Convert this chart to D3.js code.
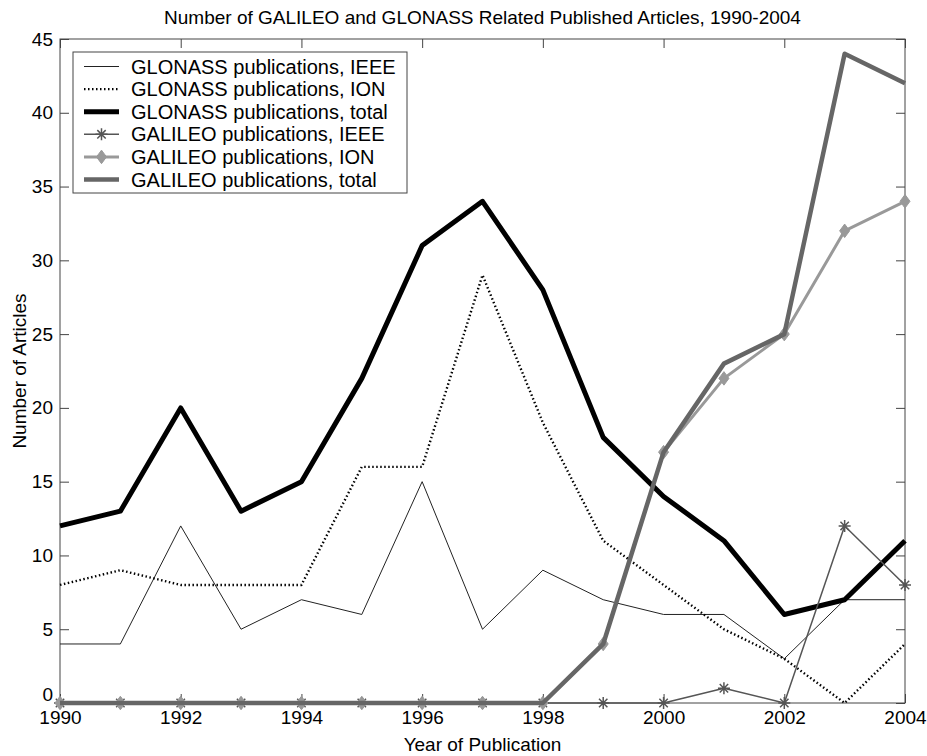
<!DOCTYPE html>
<html>
<head>
<meta charset="utf-8">
<script src="https://cdn.jsdelivr.net/npm/d3@7"></script>
<style>
  body { margin: 0; background: #fff; }
  text { font-family: "Liberation Sans", Arial, sans-serif; fill: #000; }
</style>
</head>
<body>
<svg id="chart" width="927" height="756"></svg>
<script>
const years = d3.range(1990, 2005);
const glonassIeee = [4, 4, 12, 5, 7, 6, 15, 5, 9, 7, 6, 6, 3, 7, 7];
const glonassIon = [8, 9, 8, 8, 8, 16, 16, 29, 19, 11, 8, 5, 3, 0, 4];
const glonassTotal = [12, 13, 20, 13, 15, 22, 31, 34, 28, 18, 14, 11, 6, 7, 11];
const galileoIeee = [0, 0, 0, 0, 0, 0, 0, 0, 0, 0, 0, 1, 0, 12, 8];
const galileoIon = [0, 0, 0, 0, 0, 0, 0, 0, 0, 4, 17, 22, 25, 32, 34];
const galileoTotal = [0, 0, 0, 0, 0, 0, 0, 0, 0, 4, 17, 23, 25, 44, 42];
const xTicks = d3.range(1990, 2005, 2);
const yTicks = d3.range(0, 46, 5);

const series = [
  { name: "GLONASS publications, IEEE", values: glonassIeee, color: "#222", width: 1, dash: null, marker: null },
  { name: "GLONASS publications, ION", values: glonassIon, color: "#000", width: 2.4, dash: "1.5,2.5", marker: null },
  { name: "GLONASS publications, total", values: glonassTotal, color: "#000", width: 5, dash: null, marker: null },
  { name: "GALILEO publications, IEEE", values: galileoIeee, color: "#555", width: 1.5, dash: null, marker: "star" },
  { name: "GALILEO publications, ION", values: galileoIon, color: "#999", width: 3, dash: null, marker: "diamond" },
  { name: "GALILEO publications, total", values: galileoTotal, color: "#666", width: 4.5, dash: null, marker: null },
];

const plotL = 60, plotR = 905, plotT = 39, plotB = 703;
const tick = 9;

const svg = d3.select("#chart");

const xScale = d3.scaleLinear().domain([1990, 2004]).range([plotL, plotR]);
const yScale = d3.scaleLinear().domain([0, 45]).range([plotB, plotT]);

svg.append("text")
  .text("Number of GALILEO and GLONASS Related Published Articles, 1990-2004")
  .attr("x", (plotL + plotR) / 2)
  .attr("y", 24)
  .attr("text-anchor", "middle")
  .style("font-size", "19px");

// axes, ticks pointing inward
const xAxis = svg.append("g")
  .attr("transform", `translate(0, ${plotB})`)
  .call(d3.axisBottom(xScale).tickValues(xTicks).tickFormat(d3.format("d")).tickSizeInner(-tick).tickSizeOuter(0));
const xTop = svg.append("g")
  .attr("transform", `translate(0, ${plotT})`)
  .call(d3.axisTop(xScale).tickValues(xTicks).tickFormat("").tickSizeInner(-tick).tickSizeOuter(0));
const yAxis = svg.append("g")
  .attr("transform", `translate(${plotL}, 0)`)
  .call(d3.axisLeft(yScale).tickValues(yTicks).tickSizeInner(-tick).tickSizeOuter(0).tickPadding(7));
const yRight = svg.append("g")
  .attr("transform", `translate(${plotR}, 0)`)
  .call(d3.axisRight(yScale).tickValues(yTicks).tickFormat("").tickSizeInner(-tick).tickSizeOuter(0));

[xAxis, xTop, yAxis, yRight].forEach((g) => {
  g.select(".domain").remove();
  g.selectAll("line").attr("stroke", "#444");
  g.selectAll("text").style("font-size", "19px").attr("fill", "#000");
});
xAxis.selectAll("text").attr("y", 8).attr("dy", "0.71em");
// keep the "0" clear of the "1990" under it
yAxis.selectAll("text").filter((d) => d === 0).attr("dy", "-0.15em");

svg.append("rect")
  .attr("x", plotL).attr("y", plotT)
  .attr("width", plotR - plotL).attr("height", plotB - plotT)
  .attr("fill", "none").attr("stroke", "#444").attr("stroke-width", 1);

svg.append("text")
  .text("Year of Publication")
  .attr("x", (plotL + plotR) / 2)
  .attr("y", 751)
  .attr("text-anchor", "middle")
  .style("font-size", "19px");

svg.append("text")
  .text("Number of Articles")
  .attr("transform", `translate(26, ${(plotT + plotB) / 2}) rotate(-90)`)
  .attr("text-anchor", "middle")
  .style("font-size", "19px");

const line = d3.line()
  .x((d, i) => xScale(years[i]))
  .y((d) => yScale(d));

const diamond = (cx, cy, s) => `M${cx},${cy - s * 1.35}L${cx + s},${cy}L${cx},${cy + s * 1.35}L${cx - s},${cy}Z`;
const star = (cx, cy, s) =>
  `M${cx - s},${cy}L${cx + s},${cy}M${cx},${cy - s}L${cx},${cy + s}` +
  `M${cx - s * 0.7},${cy - s * 0.7}L${cx + s * 0.7},${cy + s * 0.7}M${cx - s * 0.7},${cy + s * 0.7}L${cx + s * 0.7},${cy - s * 0.7}`;

const plot = svg.append("g");

series.forEach((s) => {
  const g = plot.append("g");
  g.append("path")
    .datum(s.values)
    .attr("d", line)
    .attr("fill", "none")
    .attr("stroke", s.color)
    .attr("stroke-width", s.width)
    .attr("stroke-dasharray", s.dash)
    .attr("stroke-linejoin", "round");
  if (s.marker === "diamond") {
    g.selectAll("path.m").data(s.values).enter().append("path")
      .attr("class", "m")
      .attr("d", (d, i) => diamond(xScale(years[i]), yScale(d), 5))
      .attr("fill", "#999").attr("stroke", "#999");
  }
  if (s.marker === "star") {
    g.selectAll("path.m").data(s.values).enter().append("path")
      .attr("class", "m")
      .attr("d", (d, i) => star(xScale(years[i]), yScale(d), 6))
      .attr("fill", "none").attr("stroke", s.color).attr("stroke-width", 1.5);
  }
});

// legend
const lgX = 73, lgY = 52, lgW = 334, lgH = 141;
const legend = svg.append("g");
legend.append("rect")
  .attr("x", lgX).attr("y", lgY).attr("width", lgW).attr("height", lgH)
  .attr("fill", "#fff").attr("stroke", "#444");

const rows = legend.selectAll("g.row").data(series).enter().append("g")
  .attr("class", "row")
  .attr("transform", (d, i) => `translate(0, ${66.5 + i * 22.6})`);
rows.append("line")
  .attr("x1", 84).attr("x2", 119)
  .attr("stroke", (d) => d.color)
  .attr("stroke-width", (d) => d.width)
  .attr("stroke-dasharray", (d) => d.dash);
rows.filter((d) => d.marker === "diamond").append("path")
  .attr("d", diamond(101.5, 0, 5)).attr("fill", "#999").attr("stroke", "#999");
rows.filter((d) => d.marker === "star").append("path")
  .attr("d", star(101.5, 0, 6)).attr("fill", "none").attr("stroke", "#555").attr("stroke-width", 1.5);
rows.append("text")
  .text((d) => d.name)
  .attr("x", 131)
  .attr("dy", "0.35em")
  .style("font-size", "20px");
</script>
</body>
</html>
